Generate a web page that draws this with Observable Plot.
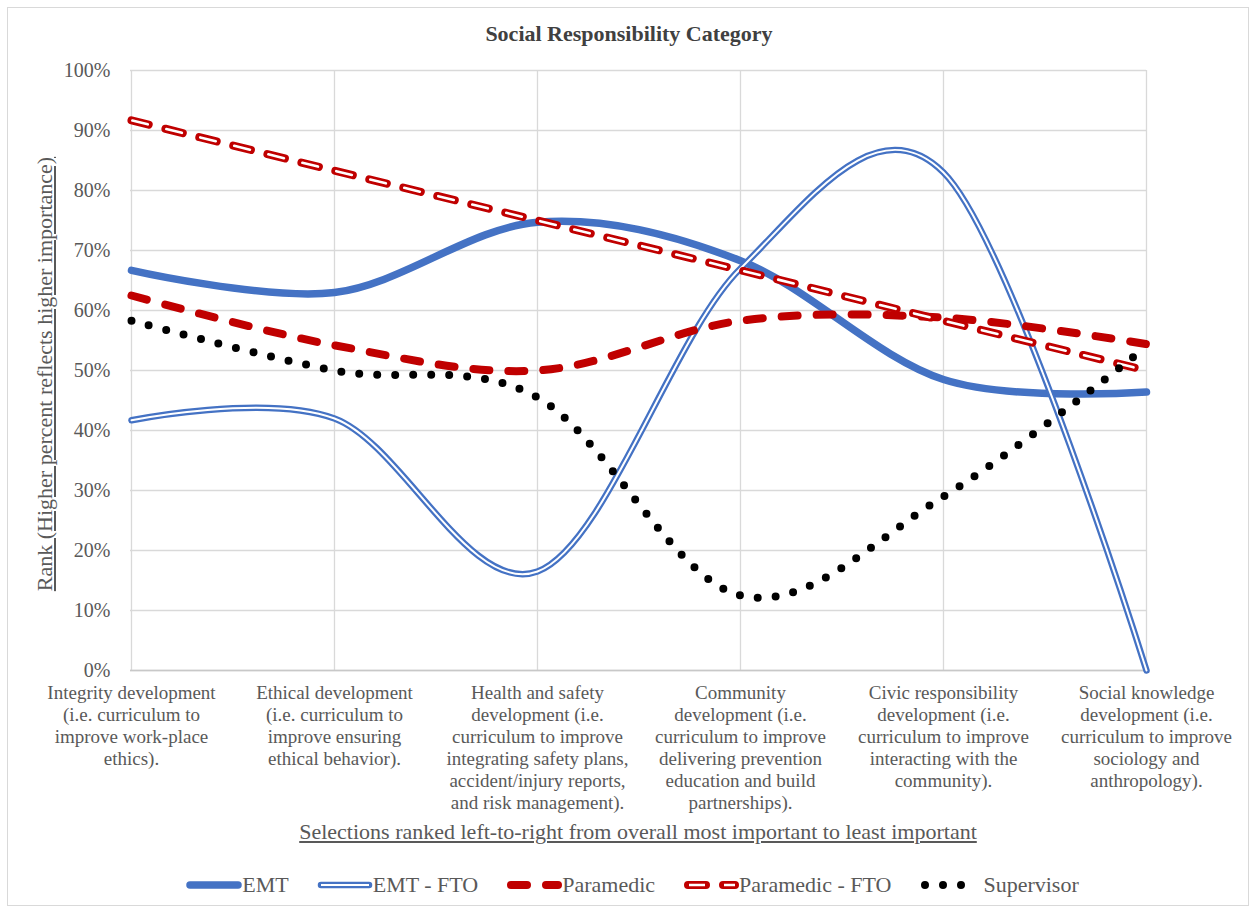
<!DOCTYPE html>
<html>
<head>
<meta charset="utf-8">
<script src="https://cdn.jsdelivr.net/npm/d3@7"></script>
<script src="https://cdn.jsdelivr.net/npm/@observablehq/plot@0.6"></script>
<style>
  body { margin: 0; background: #fff; font-family: "Liberation Serif", "Times New Roman", serif; }
  #chart { position: relative; width: 1251px; height: 911px; overflow: hidden; }
  #frame { position: absolute; left: 7px; top: 7px; width: 1240px; height: 897px; border: 1px solid #d9d9d9; }
  #title { position: absolute; left: 0; top: 21px; width: 1258px; text-align: center; font-weight: bold; font-size: 22px; color: #404040; }
  #plot { position: absolute; left: 0; top: 55px; }
  #ytitle { position: absolute; left: 45px; top: 374px; transform: translate(-50%, -50%) rotate(-90deg); white-space: nowrap; font-size: 22px; color: #595959; text-decoration: underline; }
  #xtitle { position: absolute; left: 0; top: 819px; width: 1276px; text-align: center; font-size: 22px; color: #595959; text-decoration: underline; }
  #legend { position: absolute; left: 0; top: 872px; width: 1265px; display: flex; justify-content: center; align-items: center; font-size: 22px; color: #595959; }
  .item { display: flex; align-items: center; margin: 0 14px; }
  .item svg { display: block; }
</style>
</head>
<body>
<div id="chart">
  <div id="frame"></div>
  <div id="title">Social Responsibility Category</div>
  <div id="plot"></div>
  <div id="ytitle">Rank (Higher percent reflects higher importance)</div>
  <div id="xtitle">Selections ranked left-to-right from overall most important to least important</div>
  <div id="legend"></div>
</div>
<script>
// Curriculum categories, ranked left to right
const categories = [
  "Integrity development",
  "Ethical development",
  "Health and safety development",
  "Community development",
  "Civic responsibility development",
  "Social knowledge development"
];
const categoryLabels = [
  "Integrity development\n(i.e. curriculum to\nimprove work-place\nethics).",
  "Ethical development\n(i.e. curriculum to\nimprove ensuring\nethical behavior).",
  "Health and safety\ndevelopment (i.e.\ncurriculum to improve\nintegrating safety plans,\naccident/injury reports,\nand risk management).",
  "Community\ndevelopment (i.e.\ncurriculum to improve\ndelivering prevention\neducation and build\npartnerships).",
  "Civic responsibility\ndevelopment (i.e.\ncurriculum to improve\ninteracting with the\ncommunity).",
  "Social knowledge\ndevelopment (i.e.\ncurriculum to improve\nsociology and\nanthropology)."
];
const yTicks = [0, 10, 20, 30, 40, 50, 60, 70, 80, 90, 100];

// Rank (%) per group
const emt          = [66.7, 63.0, 74.7, 68.3, 48.5, 46.4];
const emtFto       = [41.7, 42.0, 16.5, 67.0, 83.0, 0.0];
const paramedic    = [62.5, 54.2, 50.0, 58.3, 58.8, 54.4];
const paramedicFto = [91.7, 83.3, 75.0, 66.7, 58.3, 50.0];
const supervisor   = [58.3, 50.0, 45.5, 12.5, 29.0, 54.0];

const blue = "#4472C4";
const red = "#C00000";

const rows = (values) => categories.map((c, i) => ({category: c, value: values[i]}));
const labelOf = new Map(categories.map((c, i) => [c, categoryLabels[i]]));

const base = {x: "category", y: "value", curve: "cardinal", strokeLinejoin: "round"};

const chart = Plot.plot({
  width: 1251,
  height: 760,
  marginTop: 15,
  marginLeft: 130,
  marginRight: 105,
  marginBottom: 145,
  style: {fontFamily: "Liberation Serif, Times New Roman, serif", fontSize: "20px", color: "#595959", background: "transparent"},
  x: {type: "point", domain: categories, padding: 0},
  y: {domain: [0, 100]},
  marks: [
    Plot.gridY(yTicks, {stroke: "#d9d9d9", strokeOpacity: 1, strokeWidth: 1.3}),
    Plot.gridX(categories, {stroke: "#d9d9d9", strokeOpacity: 1, strokeWidth: 1.3}),
    Plot.ruleY([0], {stroke: "#c8c8c8", strokeWidth: 1.6}),
    Plot.axisY(yTicks, {tickSize: 0, tickPadding: 20, tickFormat: d => d + "%", fontSize: 20, label: null}),
    Plot.axisX(categories, {tickSize: 0, tickPadding: 13, tickFormat: d => labelOf.get(d), fontSize: 19, lineHeight: 1.16, label: null}),
    // EMT: thick solid
    Plot.line(rows(emt), {...base, stroke: blue, strokeWidth: 7.5, strokeLinecap: "round"}),
    // EMT - FTO: double line
    Plot.line(rows(emtFto), {...base, stroke: blue, strokeWidth: 6.5}),
    Plot.line(rows(emtFto), {...base, stroke: "#fff", strokeWidth: 2}),
    // Paramedic: thick dashes
    Plot.line(rows(paramedic), {...base, stroke: red, strokeWidth: 8, strokeLinecap: "round", strokeDasharray: "16,19"}),
    // Paramedic - FTO: outlined dashes
    Plot.line(rows(paramedicFto), {...base, stroke: red, strokeWidth: 8, strokeLinecap: "round", strokeDasharray: "18,17"}),
    Plot.line(rows(paramedicFto), {...base, stroke: "#fff", strokeWidth: 2.6, strokeDasharray: "16,19", strokeDashoffset: -1}),
    // Supervisor: round dots
    Plot.line(rows(supervisor), {...base, stroke: "#000", strokeWidth: 8, strokeLinecap: "round", strokeDasharray: "0,18"})
  ]
});
document.getElementById("plot").appendChild(chart);

// Legend
const samples = {
  "EMT": `<line x1="4" y1="10" x2="52" y2="10" stroke="${blue}" stroke-width="7.5" stroke-linecap="round"/>`,
  "EMT - FTO": `<line x1="4" y1="10" x2="52" y2="10" stroke="${blue}" stroke-width="6.5" stroke-linecap="round"/><line x1="4" y1="10" x2="52" y2="10" stroke="#fff" stroke-width="2"/>`,
  "Paramedic": `<line x1="5" y1="10" x2="52" y2="10" stroke="${red}" stroke-width="8" stroke-linecap="round" stroke-dasharray="16,19"/>`,
  "Paramedic - FTO": `<line x1="5" y1="10" x2="52" y2="10" stroke="${red}" stroke-width="8" stroke-linecap="round" stroke-dasharray="18,17"/><line x1="5" y1="10" x2="52" y2="10" stroke="#fff" stroke-width="2.6" stroke-dasharray="16,19" stroke-dashoffset="-1"/>`,
  "Supervisor": `<line x1="6" y1="10" x2="50" y2="10" stroke="#000" stroke-width="8" stroke-linecap="round" stroke-dasharray="0,18"/>`
};
const legend = document.getElementById("legend");
for (const [name, svg] of Object.entries(samples)) {
  const item = document.createElement("div");
  item.className = "item";
  const gap = name === "Supervisor" ? "margin-right:8px" : "";
  item.innerHTML = `<svg width="56" height="20" style="${gap}">${svg}</svg><span>${name}</span>`;
  legend.appendChild(item);
}
</script>
</body>
</html>
